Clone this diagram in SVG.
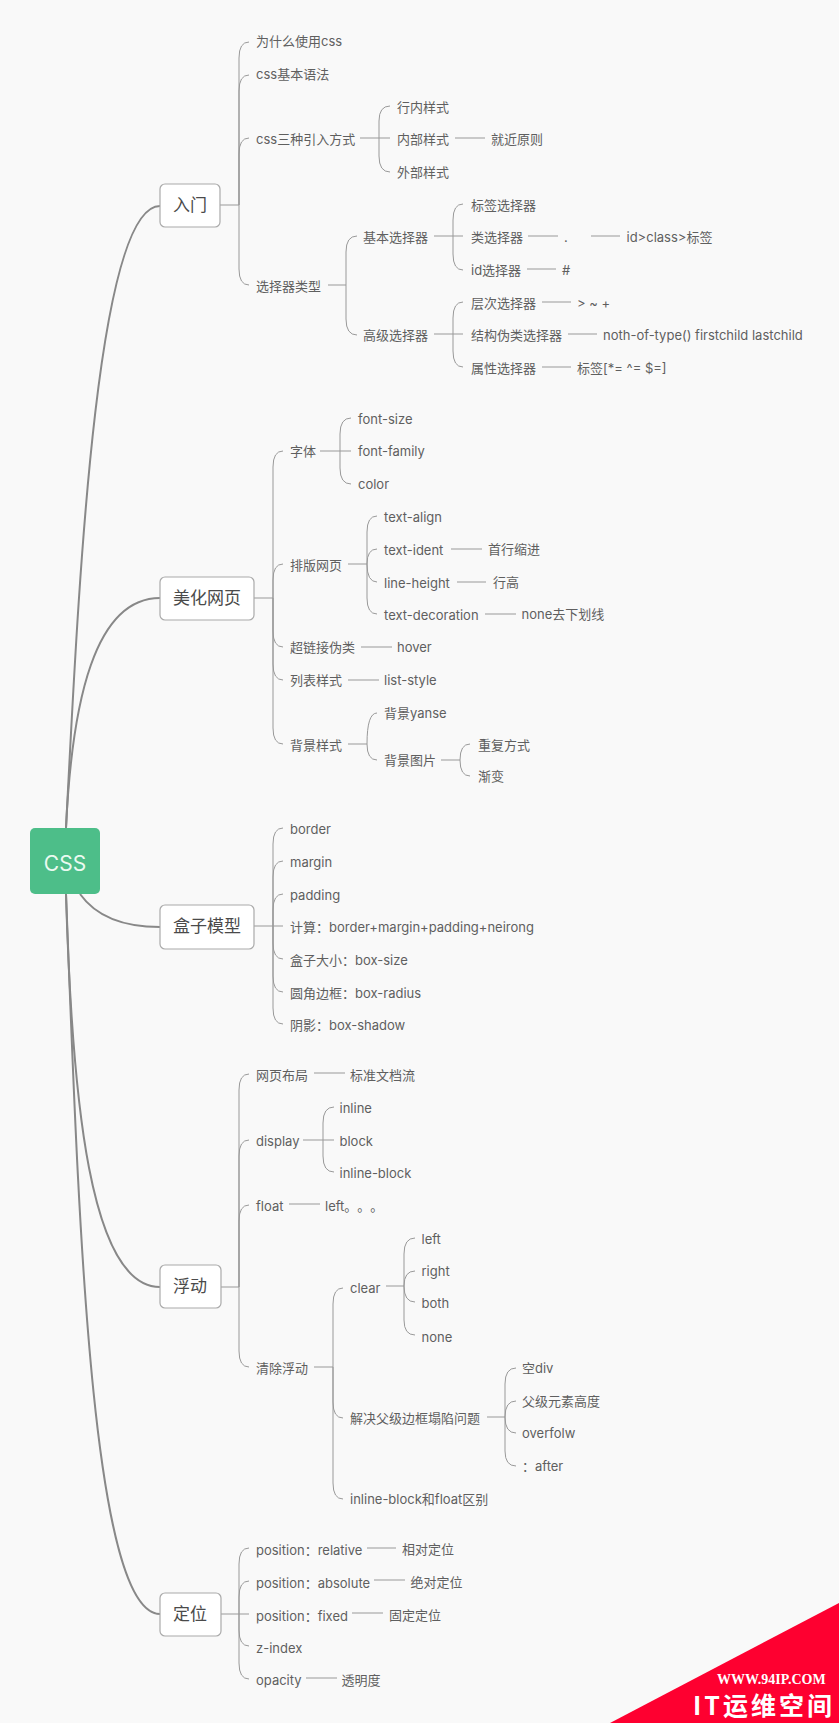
<svg xmlns="http://www.w3.org/2000/svg" width="839" height="1723" viewBox="0 0 839 1723">
<style>
text{font-family:"Inter","Noto Sans CJK SC",sans-serif;font-size:13px;font-weight:400;fill:#5f5f5f;dominant-baseline:central;text-spacing-trim:space-all}
.box{fill:#fff;stroke:#aaa;stroke-width:1.2}
.main{font-size:17px;fill:#4a4a4a;text-anchor:middle}
.trunk{fill:none;stroke:#888;stroke-width:2}
.line{fill:none;stroke:#999;stroke-width:1}
</style>
<rect width="839" height="1723" fill="#f9f9f9"/>
<g id="connectors">
<g class="trunk">
<path d="M66 828C78 600 95 206 160 206"/>
<path d="M66 828C72 700 95 598 160 598"/>
<path d="M80 894C95 915 120 927 160 927"/>
<path d="M66 894C72 1100 90 1287 160 1287"/>
<path d="M66 894C78 1200 90 1614 160 1614"/>
</g>
<g class="line">
<path d="M220 205H239M239 205V58Q239 42 249 42M239 205V91Q239 75 249 75M239 205V154Q239 138 249 138M239 205V269Q239 285 249 285"/>
<path d="M360 138H390M379 138V121Q379 106 390 106M379 138V156Q379 172 390 172M455 138H485"/>
<path d="M328 285H346M346 285V252Q346 236 357 236M346 285V319Q346 335 357 335"/>
<path d="M434 236H463M453 236V220Q453 204 463 204M453 236V254Q453 270 463 270M528 236H558M591 236H620M527 269H556"/>
<path d="M434 334H463M453 334V318Q453 302 463 302M453 334V351Q453 367 463 367M542 302H571M568 334H597M542 367H571"/>
<path d="M254 598H273M273 598V467Q273 451 283 451M273 598V580Q273 564 283 564M273 598V631Q273 647 283 647M273 598V664Q273 680 283 680M273 598V728Q273 744 283 744"/>
<path d="M320 451H351M340 451V434Q340 418 351 418M340 451V468Q340 484 351 484"/>
<path d="M348 564H367M367 564V532Q367 516 377 516M367 564Q367 549 377 549M367 564Q367 582 377 582M367 564V598Q367 614 377 614"/>
<path d="M451 549H482M457 582H486M485 614H516M361 647H392M348 680H379"/>
<path d="M348 744H367M367 744Q367 713 377 713M367 744Q367 760 377 760"/>
<path d="M441 760H460M460 760Q460 744 470 744M460 760Q460 776 470 776"/>
<path d="M254 926H273M273 926V844Q273 828 283 828M273 926V877Q273 861 283 861M273 926V910Q273 894 283 894M273 926H283M273 926V943Q273 959 283 959M273 926V976Q273 992 283 992M273 926V1008Q273 1024 283 1024"/>
<path d="M221 1287H239M239 1287V1090Q239 1074 249 1074M239 1287V1156Q239 1140 249 1140M239 1287V1221Q239 1205 249 1205M239 1287V1351Q239 1367 249 1367"/>
<path d="M314 1073H345M289 1204H320"/>
<path d="M303 1140H334M323 1140V1123Q323 1107 334 1107M323 1140V1156Q323 1172 334 1172"/>
<path d="M314 1367H333M333 1367V1304Q333 1288 343 1288M333 1367V1402Q333 1418 343 1418M333 1367V1483Q333 1499 343 1499"/>
<path d="M386 1286H404M404 1286V1254Q404 1238 415 1238M404 1286Q404 1271 415 1271M404 1286Q404 1302 415 1302M404 1286V1320Q404 1335 415 1335"/>
<path d="M487 1417H505M505 1417V1384Q505 1368 516 1368M505 1417Q505 1401 516 1401M505 1417Q505 1433 516 1433M505 1417V1451Q505 1466 516 1466"/>
<path d="M221 1614H239M239 1614V1564Q239 1548 249 1548M239 1614V1597Q239 1581 249 1581M239 1614H249M239 1614V1630Q239 1646 249 1646M239 1614V1663Q239 1679 249 1679"/>
<path d="M367 1548H396M374 1580H405M352 1613H383M306 1678H337"/>
</g>
</g>
<g id="n-css"><rect x="30" y="828" width="70" height="66" rx="5" fill="#4dbe89"/><text x="65" y="863" style="font-size:21px;fill:#eafaf1;text-anchor:middle">CSS</text></g>
<g id="n-rumen"><rect class="box" x="160" y="184" width="60" height="43" rx="5"/><text class="main" x="190" y="205">入门</text></g>
<g id="n-meihua"><rect class="box" x="160" y="577" width="94" height="43" rx="5"/><text class="main" x="207" y="598">美化网页</text></g>
<g id="n-hezi"><rect class="box" x="160" y="905" width="94" height="44" rx="5"/><text class="main" x="207" y="926">盒子模型</text></g>
<g id="n-fudong"><rect class="box" x="160" y="1265" width="61" height="43" rx="5"/><text class="main" x="190" y="1286">浮动</text></g>
<g id="n-dingwei"><rect class="box" x="160" y="1593" width="61" height="43" rx="5"/><text class="main" x="190" y="1614">定位</text></g>
<g id="n1"><text x="256" y="41">为什么使用css</text></g>
<g id="n2"><text x="256" y="74">css基本语法</text></g>
<g id="n3"><text x="256" y="139">css三种引入方式</text></g>
<g id="n4"><text x="397" y="107">行内样式</text></g>
<g id="n5"><text x="397" y="139">内部样式</text></g>
<g id="n6"><text x="491" y="139">就近原则</text></g>
<g id="n7"><text x="397" y="172">外部样式</text></g>
<g id="n8"><text x="256" y="286">选择器类型</text></g>
<g id="n9"><text x="363" y="237">基本选择器</text></g>
<g id="n10"><text x="471" y="205">标签选择器</text></g>
<g id="n11"><text x="471" y="237">类选择器</text></g>
<g id="n12"><text x="564" y="237">.</text></g>
<g id="n13"><text x="626.5" y="237">id&gt;class&gt;标签</text></g>
<g id="n14"><text x="471" y="270">id选择器</text></g>
<g id="n15"><text x="562" y="270">#</text></g>
<g id="n16"><text x="363" y="335">高级选择器</text></g>
<g id="n17"><text x="471" y="303">层次选择器</text></g>
<g id="n18"><text x="577" y="303">&gt; ~ +</text></g>
<g id="n19"><text x="471" y="335">结构伪类选择器</text></g>
<g id="n20"><text x="603" y="335">noth-of-type() firstchild lastchild</text></g>
<g id="n21"><text x="471" y="368">属性选择器</text></g>
<g id="n22"><text x="577" y="368">标签[*= ^= $=]</text></g>
<g id="n23"><text x="290" y="451">字体</text></g>
<g id="n24"><text x="358" y="418.5">font-size</text></g>
<g id="n25"><text x="358" y="451">font-family</text></g>
<g id="n26"><text x="358" y="484">color</text></g>
<g id="n27"><text x="290" y="565">排版网页</text></g>
<g id="n28"><text x="384" y="516.5">text-align</text></g>
<g id="n29"><text x="384" y="549.5">text-ident</text></g>
<g id="n30"><text x="488" y="549">首行缩进</text></g>
<g id="n31"><text x="384" y="582.5">line-height</text></g>
<g id="n32"><text x="493" y="582">行高</text></g>
<g id="n33"><text x="384" y="614.5">text-decoration</text></g>
<g id="n34"><text x="521.5" y="614">none去下划线</text></g>
<g id="n35"><text x="290" y="647">超链接伪类</text></g>
<g id="n36"><text x="397" y="647">hover</text></g>
<g id="n37"><text x="290" y="680">列表样式</text></g>
<g id="n38"><text x="384" y="680">list-style</text></g>
<g id="n39"><text x="290" y="744.5">背景样式</text></g>
<g id="n40"><text x="384" y="713">背景yanse</text></g>
<g id="n41"><text x="384" y="760">背景图片</text></g>
<g id="n42"><text x="478" y="744.5">重复方式</text></g>
<g id="n43"><text x="478" y="776">渐变</text></g>
<g id="n44"><text x="290" y="829">border</text></g>
<g id="n45"><text x="290" y="862">margin</text></g>
<g id="n46"><text x="290" y="895">padding</text></g>
<g id="n47"><text x="290" y="926.5">计算：border+margin+padding+neirong</text></g>
<g id="n48"><text x="290" y="959.5">盒子大小：box-size</text></g>
<g id="n49"><text x="290" y="992.5">圆角边框：box-radius</text></g>
<g id="n50"><text x="290" y="1024.5">阴影：box-shadow</text></g>
<g id="n51"><text x="256" y="1074.5">网页布局</text></g>
<g id="n52"><text x="350" y="1074.5">标准文档流</text></g>
<g id="n53"><text x="256" y="1141">display</text></g>
<g id="n54"><text x="339.5" y="1108">inline</text></g>
<g id="n55"><text x="339.5" y="1141">block</text></g>
<g id="n56"><text x="339.5" y="1173">inline-block</text></g>
<g id="n57"><text x="256" y="1206">float</text></g>
<g id="n58"><text x="325" y="1206">left。。。</text></g>
<g id="n59"><text x="256" y="1368">清除浮动</text></g>
<g id="n60"><text x="350" y="1287.5">clear</text></g>
<g id="n61"><text x="421.5" y="1238.5">left</text></g>
<g id="n62"><text x="421.5" y="1271">right</text></g>
<g id="n63"><text x="421.5" y="1303">both</text></g>
<g id="n64"><text x="421.5" y="1336.5">none</text></g>
<g id="n65"><text x="350" y="1417.5">解决父级边框塌陷问题</text></g>
<g id="n66"><text x="522" y="1368">空div</text></g>
<g id="n67"><text x="522" y="1400.5">父级元素高度</text></g>
<g id="n68"><text x="522" y="1433">overfolw</text></g>
<g id="n69"><text x="522" y="1466">：after</text></g>
<g id="n70"><text x="350" y="1499">inline-block和float区别</text></g>
<g id="n71"><text x="256" y="1549.5">position：relative</text></g>
<g id="n72"><text x="402" y="1549">相对定位</text></g>
<g id="n73"><text x="256" y="1582.5">position：absolute</text></g>
<g id="n74"><text x="410.5" y="1582">绝对定位</text></g>
<g id="n75"><text x="256" y="1615.5">position：fixed</text></g>
<g id="n76"><text x="389" y="1615">固定定位</text></g>
<g id="n77"><text x="256" y="1647.5">z-index</text></g>
<g id="n78"><text x="256" y="1680">opacity</text></g>
<g id="n79"><text x="341.5" y="1680">透明度</text></g>
<g id="watermark">
<polygon points="839,1603 839,1723 610,1723" fill="#fe0030"/>
<text x="717" y="1679" style="font-family:'Liberation Serif',serif;font-weight:700;font-size:14px;fill:#fff">WWW.94IP.COM</text>
<text x="693" y="1704" style="font-family:'Noto Sans CJK SC',sans-serif;font-weight:700;font-size:25px;fill:#fff;letter-spacing:3px">IT运维空间</text>
</g>
</svg>
